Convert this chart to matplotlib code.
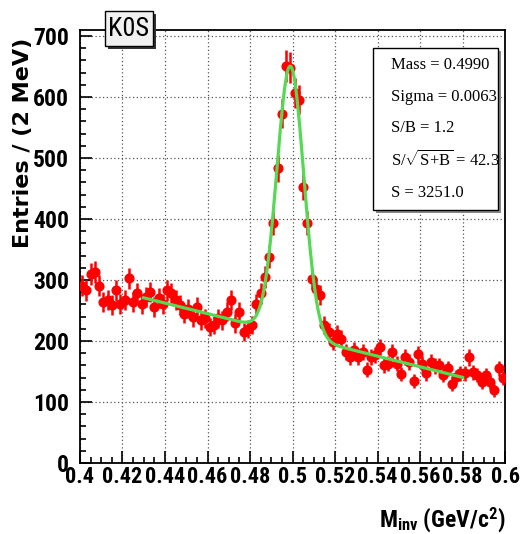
import numpy as np
import matplotlib
matplotlib.use("Agg")
import matplotlib.pyplot as plt
from matplotlib import font_manager
from matplotlib.ticker import MultipleLocator, FuncFormatter
from matplotlib.patches import Rectangle

# K0S invariant mass, 2 MeV bins from 0.40 to 0.60 GeV
bin_lo = 0.4
bin_w = 0.002
counts = [291, 283, 310, 313, 291, 264, 267, 259, 283, 261,
          268, 303, 264, 278, 261, 272, 280, 256, 270, 261,
          283, 278, 267, 259, 245, 253, 239, 256, 234, 237,
          223, 226, 237, 234, 248, 268, 229, 248, 215, 220,
          226, 261, 278, 305, 338, 393, 483, 573, 651, 648,
          607, 596, 452, 393, 302, 286, 276, 226, 215, 199,
          212, 204, 182, 174, 185, 174, 182, 153, 174, 177,
          190, 160, 163, 182, 163, 146, 174, 166, 134, 178,
          163, 147, 166, 159, 160, 144, 155, 130, 141, 147,
          147, 173, 149, 144, 133, 144, 133, 119, 155, 139]

# fit: gaussian + linear background, drawn over 0.43 - 0.58
fit_range = (0.43, 0.58)
fit_mass = 0.4990
fit_sigma = 0.0063
fit_amp = 440.0
bkg_p0 = 210.0
bkg_p1 = -870.0

stats_lines = ["Mass = 0.4990", "Sigma = 0.0063", "S/B = 1.2",
               r"S/$\sqrt{\mathrm{S{+}B}}$ = 42.3", "S = 3251.0"]

W, H = 524, 534

# pick a narrow sans if there is one (ROOT uses condensed helvetica)
fonts = font_manager.fontManager.ttflist
names = set(f.name for f in fonts)
narrow = None
stretch = "normal"
for cand in ["Liberation Sans Narrow", "Roboto Condensed", "Open Sans Condensed"]:
    if cand in names:
        narrow = cand
        break
if narrow is None:
    for f in fonts:
        if f.name in ("Roboto", "Open Sans", "DejaVu Sans") and f.stretch in ("condensed", "semi-condensed"):
            narrow = f.name
            stretch = "condensed"
            break
xtick_size, ytick_size = 16, 17
if narrow is None:
    narrow = "Liberation Sans"
    xtick_size, ytick_size = 13, 14

plt.rcParams["mathtext.fontset"] = "custom"
plt.rcParams["mathtext.rm"] = "Liberation Serif"
plt.rcParams["mathtext.bf"] = narrow + ":bold"
plt.rcParams["mathtext.it"] = "Liberation Serif:italic"

counts = np.array(counts, dtype=float)
x = bin_lo + bin_w * (np.arange(len(counts)) + 0.5)
err = np.sqrt(counts)

xf = np.linspace(fit_range[0], fit_range[1], 300)
yf = fit_amp * np.exp(-0.5 * ((xf - fit_mass) / fit_sigma) ** 2) + bkg_p0 + bkg_p1 * (xf - 0.5)

fig = plt.figure(figsize=(W / 100, H / 100), dpi=100)
ax = fig.add_axes([80 / W, 1 - 463 / H, 425 / W, 433 / H])

ax.errorbar(x, counts, yerr=err, fmt="o", color="red", ms=6.3, elinewidth=1.8,
            capsize=0, zorder=3)
ax.plot(xf, yf, color="#55d955", lw=2.3, zorder=4)

ax.set_xlim(0.4, 0.6)
ax.set_ylim(0, 710)
ax.xaxis.set_major_locator(MultipleLocator(0.02))
ax.xaxis.set_minor_locator(MultipleLocator(0.005))
ax.yaxis.set_major_locator(MultipleLocator(100))
ax.yaxis.set_minor_locator(MultipleLocator(20))
ax.xaxis.set_major_formatter(FuncFormatter(lambda v, p: "%g" % round(v, 3)))
ax.yaxis.set_major_formatter(FuncFormatter(lambda v, p: "%d" % v))
ax.tick_params(which="both", direction="in", top=False, right=False, width=1.2)
ax.tick_params(which="major", length=8.5)
ax.tick_params(which="minor", length=4.3)
ax.tick_params(axis="x", pad=2)
ax.tick_params(axis="y", pad=8)
for lab in ax.get_xticklabels():
    lab.set_fontsize(xtick_size)
for lab in ax.get_yticklabels():
    lab.set_fontsize(ytick_size)
for lab in ax.get_xticklabels() + ax.get_yticklabels():
    lab.set_family([narrow, "DejaVu Sans"])
    lab.set_stretch(stretch)
    lab.set_weight("bold")
for s in ax.spines.values():
    s.set_linewidth(1.3)
ax.grid(True, which="major", color="#555555", linestyle=(0, (1, 2)), linewidth=0.9)
ax.set_axisbelow(True)

fig.text(23 / W, 1 - 143 / H, "Entries / (2 MeV)", rotation=90, ha="center", va="center",
         fontsize=16, fontweight="bold", family="DejaVu Sans")
fig.text(505 / W, 1 - 527 / H, r"$\mathbf{M}_{\mathbf{inv}}$ (GeV/c$^{\mathbf{2}}$)",
         ha="right", va="baseline", fontsize=17, fontweight="bold", fontstretch=stretch,
         family=[narrow, "DejaVu Sans"])

# title box with shadow
fig.patches.append(Rectangle((108 / W, 1 - 49 / H), 48 / W, 35 / H, transform=fig.transFigure,
                             facecolor="#333333", edgecolor="none", zorder=5))
fig.patches.append(Rectangle((105 / W, 1 - 46 / H), 48 / W, 35 / H, transform=fig.transFigure,
                             facecolor="#f0f0f0", edgecolor="black", lw=1.0, zorder=6))
fig.text(129 / W, 1 - 29 / H, "K0S", ha="center", va="center", fontsize=19,
         fontstretch=stretch, family=[narrow, "DejaVu Sans"], zorder=7)

# stats box
fig.patches.append(Rectangle((376 / W, 1 - 213 / H), 125 / W, 162 / H, transform=fig.transFigure,
                             facecolor="#888888", edgecolor="none", zorder=5))
fig.patches.append(Rectangle((373 / W, 1 - 210 / H), 125 / W, 162 / H, transform=fig.transFigure,
                             facecolor="white", edgecolor="black", lw=1.0, zorder=6))
line_y = [65, 97, 128, 160, 193]
for txt, yy in zip(stats_lines, line_y):
    fig.text(391 / W, 1 - yy / H, txt, ha="left", va="center", fontsize=12,
             family="Liberation Serif", zorder=7)

fig.savefig("out.png", dpi=100)
